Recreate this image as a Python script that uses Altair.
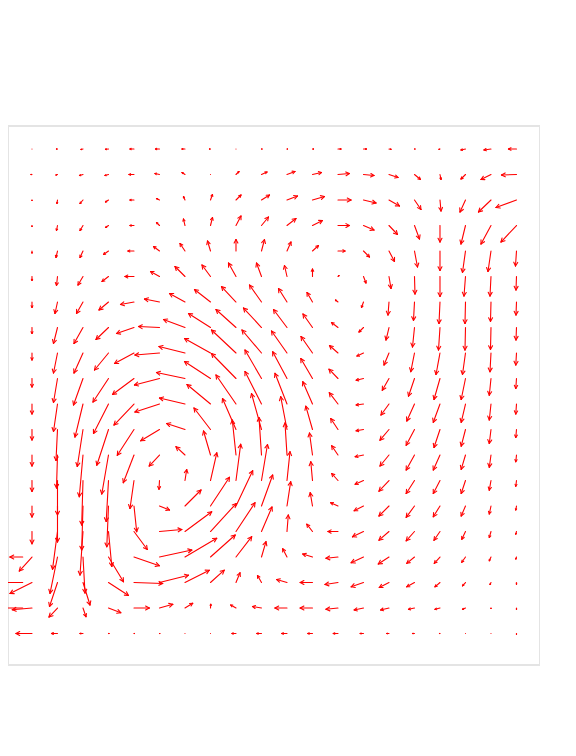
import numpy as np
import pandas as pd
import altair as alt

# velocity field, one list per grid row (top row first)
# u = rightward component, v = upward component (pixels at the drawn scale)
U_ROWS = [
    [0, -1, -2, -3, -4, -4, -3, -1, 0, 0.5, 0.5, 1, 3, 3, 2, 0.5, -1, -4.5, -7, -8],
    [-1, -1.5, -3.5, -3.5, -5, -4.5, -3, 0, 3, 5.5, 8, 9, 11.5, 10.5, 9, 6, 1, -4.5, -10, -15],
    [0, -0.5, -3, -3, -4, -3, -1.5, 2, 5, 8, 10.5, 12, 13, 12.5, 10.5, 6.5, 1, -5.5, -12.5, -20.5],
    [0, -1, -3, -3, -4, -3, -1.5, 2, 5, 7, 9, 10, 11.5, 10.5, 8.5, 5, 0, -4.5, -10, -15.5],
    [0, -1.5, -3, -5, -6, -6, -5, -3, 0, 3, 4, 6, 7, 6, 5.5, 3, 0, -3, -3, -1],
    [0, -1, -5, -6.5, -9, -9, -10, -8.5, -7.5, -5, -2.5, 0, 1, 2.5, 2, 0.5, 0, -1.5, -1, -0.5],
    [0, -2.5, -6.5, -9.5, -13.5, -15, -15.5, -16, -14.5, -12, -8.5, -5.5, -2.5, -2, -1, -1, -1, -0.5, -0.5, -0.5],
    [0, -4, -9, -12.5, -17.5, -21, -21.5, -22, -20, -18, -13.5, -9.5, -6.5, -4.5, -3, -2, -1.5, -0.5, -0.5, -0.5],
    [0, -4, -9, -14, -19.5, -24.5, -26, -26, -24.5, -19.5, -15.5, -11.5, -8.5, -6.5, -5, -3.7, -4, -3, -1, -0.7],
    [0, -4, -9.5, -15.5, -21.5, -25, -28.5, -26, -24.5, -16.5, -14.3, -11.7, -9, -7.3, -6.7, -6, -6, -4.3, -1.7, -0.7],
    [0, -4, -8, -15, -20, -24.5, -25.5, -23.5, -20, -16.5, -12, -9.7, -8.7, -7.3, -8, -7.7, -6.7, -4.3, -1.7, -0.7],
    [0, -1.5, -5.7, -11.7, -16.7, -18.7, -18.3, -16.5, -13.5, -10, -6.3, -6.7, -7.3, -7.3, -9, -8.3, -6, -4.3, -1.7, -0.7],
    [0, -1, -3.7, -6.7, -10.7, -10.3, -9, -7, -3.7, -2.5, -2, -3, -6.3, -8.3, -9, -8.3, -6.7, -4.3, -1.7, -0.7],
    [0, 0, -1.3, -2.3, -4, -0.5, 1.7, 6.3, 4.7, 6, 3, -1.7, -6.3, -8.3, -10, -8.3, -6.7, -4.3, -1.7, -0.7],
    [0, 0, -1.3, -1.7, 2.7, 10, 16, 19, 16.7, 11.2, 3.7, -2.3, -7.3, -9.3, -10, -8.3, -6.7, -4.3, -1.7, -0.7],
    [0, -5, -3, 3.3, 13.3, 22.3, 26.7, 25.7, 19, 10.5, 1.3, -5.7, -10, -11, -10, -8.3, -6, -3.7, -1.7, -0.7],
    [-12.7, -7.5, 2, 15, 25.3, 32.3, 31.7, 24.7, 15.7, 4.5, -4.3, -9.7, -12, -12.3, -10.7, -7.7, -5.7, -3.7, -1.7, -0.7],
    [-22, -8, 7, 20, 28.7, 29, 24.3, 13.7, 4, -4, -10.3, -12.3, -13, -12.3, -9.7, -7.7, -5, -3, -1, 0],
    [-19.7, -8.5, 3, 12.3, 15.3, 13.3, 7.7, 0.3, -5.3, -9, -12, -12.3, -12, -9.3, -8.3, -6, -5, -3, 0, 0],
    [-16, -6, -3, 0.5, 0.5, 0.3, 0, 0, -4, -4.7, -5.3, -4.7, -4.7, -3.3, -2.3, -2, -0.5, 0, 0, 0],
]
V_ROWS = [
    [0, 0, -0.5, -0.3, 0, 0, 0, 0, 0, 0, 0, 0, 0, 0, -0.3, 0, -0.3, -1, -1, 0],
    [0, -0.5, -1, -1, 0, 1, 2, 0, 3, 2.5, 3, 2, 1, -1, -3, -5, -5, -4.5, -5, -0.5],
    [-0.5, -3.5, -3.5, -2, 0, 1.5, 3.5, 5.5, 5, 5, 4, 3.5, 0, -3, -6, -9.5, -11, -12, -12, -7.5],
    [-1, -5, -5, -2, 0, 3, 6.5, 8, 9.5, 8.5, 7, 5, 0, -4.5, -9, -13.5, -16.5, -18.5, -18.5, -16.5],
    [-2, -6.5, -6.5, -3.5, 0, 4.5, 7.5, 10, 11.5, 11.5, 9, 5.5, 0, -6, -10.5, -16, -19.5, -21.5, -20.5, -15],
    [-4, -9, -8.5, -5, 0, 5, 10, 11.5, 13.5, 13.5, 11, 7.5, 1, -6.5, -12, -17.5, -20, -19.5, -19.5, -13.5],
    [-5.5, -11.5, -11.5, -8, -2.5, 3, 8.5, 12.5, 15.5, 17, 13.5, 9.5, 2, -5.5, -13, -18.5, -21.5, -21.5, -19.5, -13],
    [-6, -16, -16, -12, -6, 1, 8, 14, 18, 19.5, 18, 13.5, 5, -4.5, -12.5, -19.5, -22.5, -22.5, -22, -12.5],
    [-7, -20, -20, -17, -10.5, -2, 6.5, 14.5, 23, 23, 22, 16.5, 7.5, -3, -12, -18.7, -21.5, -21.5, -18.7, -12],
    [-8.5, -24, -26.5, -23.5, -16, -6.5, 6, 17, 25, 28.5, 26.7, 20, 9.3, -1.7, -11.7, -17.7, -21, -21, -16.7, -10],
    [-10, -27.5, -33, -29.5, -21, -8, 6, 19.5, 29, 32.5, 30.7, 22.3, 11.3, -1, -11, -17, -18.3, -18.3, -16, -10],
    [-10.5, -31, -37, -35.7, -25.7, -11.3, 6, 21.5, 31, 36, 32.8, 23.3, 11, -1.3, -10.7, -15.7, -18, -16.7, -14, -8],
    [-11, -33, -41.7, -39, -27.7, -11, 8.3, 24, 35, 37.5, 32, 22, 9.3, -1.7, -11, -15, -15, -14.3, -12.3, -6.7],
    [-11, -34.5, -44.5, -41, -28, -8.7, 11, 27.7, 36.3, 36, 28.8, 18.7, 7, -3.7, -10.7, -13, -13, -13, -9.7, -5.7],
    [-11, -36, -44, -40.7, -25.7, -4, 16, 28.7, 35.3, 31, 24.3, 13.3, 3.3, -4.7, -10, -11.3, -10.7, -10, -8, -4],
    [-12.3, -37.8, -43.5, -35, -18, 2, 19.7, 28, 28.7, 24.5, 16.5, 7.3, 0, -5.3, -8.7, -9.3, -8.7, -7.7, -6, -2.7],
    [-14, -36.3, -36, -24.7, -8.7, 7, 18.7, 22, 20.3, 15.3, 8.3, 3, -1.3, -5.7, -7, -6.3, -6.3, -5.3, -3.7, -2],
    [-11, -24, -22.5, -13, -1, 7.3, 12.3, 12.3, 9.7, 7, 3, 0, -2, -4.3, -5, -4.3, -4.3, -3.3, -2, -1.7],
    [-1.7, -9, -8.7, -4.7, 0, 3.7, 4.7, 3.7, 3, 1.5, 0, 0, -1.3, -2, -2, -1.3, -1.3, -1.3, -0.5, -1.3],
    [0, 0, 0, 0, 0, 0, 0, 0, 0, 0, 0, 0, 0, 0, 0, 0, 0, 0, 0, -0.7],
]

# three extra wall arrows near the lower left corner
WALL_X = [-0.365, -0.365, -0.365]
WALL_ROW = [16, 17, 18]
WALL_U = [-12.7, -22.7, -21]
WALL_V = [0, 0, 0]

PX = 25.5          # pixels per grid unit
HEAD_ANGLE = np.radians(28)

arrows = []
for j, (urow, vrow) in enumerate(zip(U_ROWS, V_ROWS)):
    for i, (u, v) in enumerate(zip(urow, vrow)):
        arrows.append((i, 19 - j, u, v))
for x, r, u, v in zip(WALL_X, WALL_ROW, WALL_U, WALL_V):
    arrows.append((x, 19 - r, u, v))

segs = []
for k, (x, y, u, v) in enumerate(arrows):
    length = np.hypot(u, v)
    tx, ty = x + u / PX, y + v / PX
    # shaft (a zero-length vector leaves just a dot from the round cap)
    segs.append(dict(id=k, x=x, y=y, x2=tx, y2=ty))
    if length < 0.3:
        continue
    ang = np.arctan2(v, u)
    arm = min(4.2, 0.35 * length) / PX
    for s in (1, -1):
        a = ang + np.pi + s * HEAD_ANGLE
        segs.append(dict(id=k, x=tx, y=ty, x2=tx + arm * np.cos(a), y2=ty + arm * np.sin(a)))

df = pd.DataFrame(segs)

xs = alt.Scale(domain=[-0.941, 19.922], zero=False, nice=False)
ys = alt.Scale(domain=[-1.235, 19.902], zero=False, nice=False)

chart = alt.Chart(df).mark_rule(color='#ff0000', strokeWidth=1.1, strokeCap='round').encode(
    alt.X('x:Q', scale=xs, axis=None),
    alt.Y('y:Q', scale=ys, axis=None),
    x2='x2:Q',
    y2='y2:Q',
).properties(
    width=532,
    height=539,
    autosize=alt.AutoSizeParams(type='none'),
    padding={'left': 0, 'top': 118, 'right': 0, 'bottom': 10},
).configure_view(stroke='#e4e4e4', strokeWidth=2)

chart.save("out.html", embed_options={"renderer": "svg", "actions": False})
